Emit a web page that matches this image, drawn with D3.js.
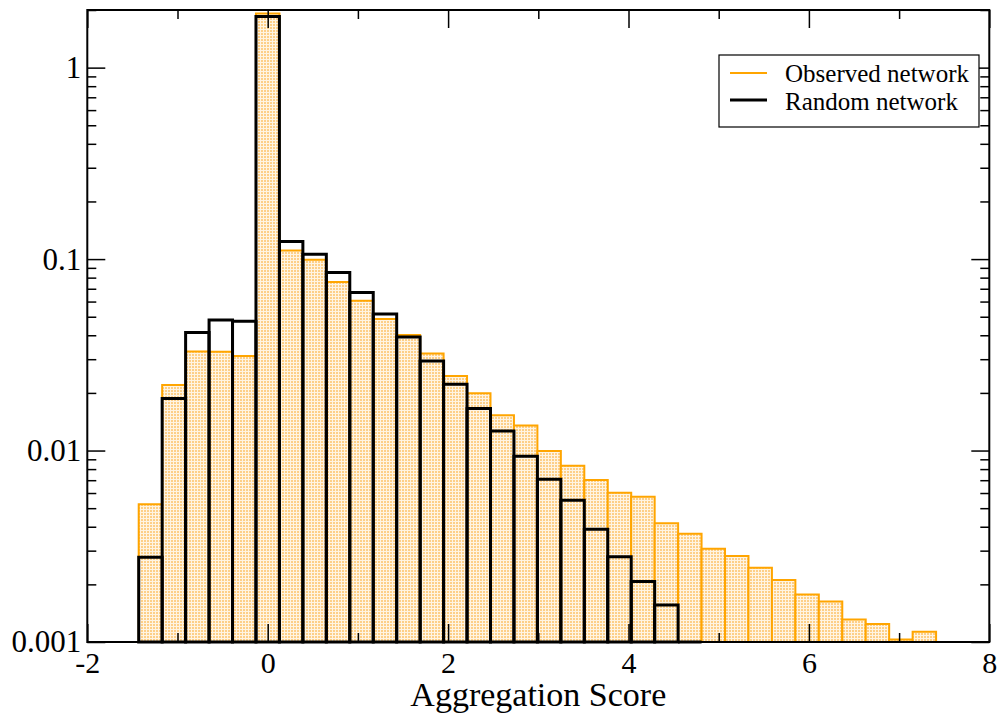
<!DOCTYPE html>
<html>
<head>
<meta charset="utf-8">
<script src="https://cdn.jsdelivr.net/npm/d3@7"></script>
<style>
  html, body { margin: 0; padding: 0; background: #fff; }
  svg { display: block; }
</style>
</head>
<body>
<div id="chart"></div>
<script>
// bin centres (bin width 0.26)
const BIN_WIDTH = 0.26;
const observedCenters = [
  -1.30, -1.04, -0.78, -0.52, -0.26, 0.00, 0.26, 0.52, 0.78, 1.04,
  1.30, 1.56, 1.82, 2.08, 2.34, 2.60, 2.86, 3.12, 3.38, 3.64,
  3.90, 4.16, 4.42, 4.68, 4.94, 5.20, 5.46, 5.72, 5.98, 6.24,
  6.50, 6.76, 7.02, 7.28,
];
const observedValues = [
  0.00524, 0.0220, 0.0329, 0.0328, 0.0312, 1.92, 0.111, 0.0991, 0.076, 0.0605,
  0.0486, 0.0401, 0.0321, 0.0245, 0.0199, 0.0153, 0.0135, 0.00995, 0.00834, 0.00702,
  0.00602, 0.00574, 0.00417, 0.00368, 0.00307, 0.00281, 0.00244, 0.00211, 0.00177, 0.00163,
  0.00131, 0.00124, 0.00103, 0.00113,
];
const randomCenters = [
  -1.30, -1.04, -0.78, -0.52, -0.26, 0.00, 0.26, 0.52, 0.78, 1.04,
  1.30, 1.56, 1.82, 2.08, 2.34, 2.60, 2.86, 3.12, 3.38, 3.64,
  3.90, 4.16, 4.42, 4.68,
];
const randomValues = [
  0.00277, 0.0187, 0.0413, 0.0480, 0.0474, 1.85, 0.1236, 0.106, 0.0851, 0.0669,
  0.0516, 0.0392, 0.0294, 0.0222, 0.0166, 0.01266, 0.00934, 0.00708, 0.00550, 0.00388,
  0.00279, 0.00207, 0.00156, 0,
];

const xMajorTicks = [-2, 0, 2, 4, 6, 8];
const xMinorTicks = [-1, 1, 3, 5, 7];
const yMajorTicks = [0.001, 0.01, 0.1, 1];
const yTickLabels = ["0.001", "0.01", "0.1", "1"];
const legendLabels = ["Observed network", "Random network"];
const X_TITLE = "Aggregation Score";

const WIDTH = 1003;
const HEIGHT = 719;
const PLOT_LEFT = 87.3;
const PLOT_RIGHT = 989.3;
const PLOT_TOP = 10;
const PLOT_BOTTOM = 642;
const Y_MIN = 0.001;
const Y_MAX = 2;

const MAJOR_TICK = 18;
const MINOR_TICK = 9;
const FONT = "'Liberation Serif', 'Times New Roman', Times, serif";
const ORANGE = "#ffa500";

const svg = d3
  .select("#chart")
  .append("svg")
  .attr("width", WIDTH)
  .attr("height", HEIGHT)
  .attr("viewBox", [0, 0, WIDTH, HEIGHT]);

// dotted fill used for the observed bars
const defs = svg.append("defs");
const dotPattern = defs
  .append("pattern")
  .attr("id", "orange-dots")
  .attr("patternUnits", "userSpaceOnUse")
  .attr("width", 3)
  .attr("height", 3);
dotPattern.append("rect").attr("width", 3).attr("height", 3).attr("fill", "#fff4e2");
dotPattern.append("rect").attr("width", 2).attr("height", 2).attr("fill", "#fdcf88");

const x = d3.scaleLinear().domain([-2, 8]).range([PLOT_LEFT, PLOT_RIGHT]);
const y = d3.scaleLog().domain([Y_MIN, Y_MAX]).range([PLOT_BOTTOM, PLOT_TOP]);

const observed = observedCenters.map((c, i) => ({ c, v: observedValues[i] }));
const random = randomCenters.map((c, i) => ({ c, v: randomValues[i] }));

const barY = (v) => y(Math.max(v, Y_MIN));

// outline of one bin; an empty bin collapses to a line on the baseline
function binPath(d) {
  const x0 = x(d.c - BIN_WIDTH / 2);
  const x1 = x(d.c + BIN_WIDTH / 2);
  const top = barY(d.v);
  return `M${x0},${PLOT_BOTTOM}V${top}H${x1}V${PLOT_BOTTOM}Z`;
}

svg
  .append("g")
  .attr("class", "observed-bars")
  .selectAll("path")
  .data(observed)
  .join("path")
  .attr("d", binPath)
  .attr("fill", "url(#orange-dots)")
  .attr("stroke", ORANGE)
  .attr("stroke-width", 2);

svg
  .append("g")
  .attr("class", "random-bars")
  .selectAll("path")
  .data(random)
  .join("path")
  .attr("d", binPath)
  .attr("fill", "none")
  .attr("stroke", "#000")
  .attr("stroke-width", 3);

// axes: ticks point inward on all four sides
const yMinorTicks = y.ticks().filter((t) => !yMajorTicks.includes(t) && t <= Y_MAX);

function styleAxis(g, withLabels, fontSize) {
  g.select(".domain").remove();
  g.selectAll(".tick line").attr("stroke", "#000").attr("stroke-width", 1.5);
  g.selectAll(".tick text")
    .attr("fill", "#000")
    .style("font-family", FONT)
    .style("font-size", fontSize + "px")
    .style("display", withLabels ? null : "none");
}

svg
  .append("g")
  .attr("transform", `translate(0,${PLOT_BOTTOM})`)
  .call(d3.axisBottom(x).tickValues(xMajorTicks).tickSize(-MAJOR_TICK).tickPadding(10).tickFormat((d) => String(d)))
  .call((g) => styleAxis(g, true, 30));
svg
  .append("g")
  .attr("transform", `translate(0,${PLOT_BOTTOM})`)
  .call(d3.axisBottom(x).tickValues(xMinorTicks).tickSize(-MINOR_TICK).tickFormat(""))
  .call((g) => styleAxis(g, false, 30));
svg
  .append("g")
  .attr("transform", `translate(0,${PLOT_TOP})`)
  .call(d3.axisTop(x).tickValues(xMajorTicks).tickSize(-MAJOR_TICK).tickFormat(""))
  .call((g) => styleAxis(g, false, 30));
svg
  .append("g")
  .attr("transform", `translate(0,${PLOT_TOP})`)
  .call(d3.axisTop(x).tickValues(xMinorTicks).tickSize(-MINOR_TICK).tickFormat(""))
  .call((g) => styleAxis(g, false, 30));

svg
  .append("g")
  .attr("transform", `translate(${PLOT_LEFT},0)`)
  .call(
    d3.axisLeft(y).tickValues(yMajorTicks).tickSize(-MAJOR_TICK).tickPadding(6)
      .tickFormat((d, i) => yTickLabels[i])
  )
  .call((g) => styleAxis(g, true, 31));
svg
  .append("g")
  .attr("transform", `translate(${PLOT_LEFT},0)`)
  .call(d3.axisLeft(y).tickValues(yMinorTicks).tickSize(-MINOR_TICK).tickFormat(""))
  .call((g) => styleAxis(g, false, 31));
svg
  .append("g")
  .attr("transform", `translate(${PLOT_RIGHT},0)`)
  .call(d3.axisRight(y).tickValues(yMajorTicks).tickSize(-MAJOR_TICK).tickFormat(""))
  .call((g) => styleAxis(g, false, 31));
svg
  .append("g")
  .attr("transform", `translate(${PLOT_RIGHT},0)`)
  .call(d3.axisRight(y).tickValues(yMinorTicks).tickSize(-MINOR_TICK).tickFormat(""))
  .call((g) => styleAxis(g, false, 31));

// frame
svg
  .append("rect")
  .attr("x", PLOT_LEFT)
  .attr("y", PLOT_TOP)
  .attr("width", PLOT_RIGHT - PLOT_LEFT)
  .attr("height", PLOT_BOTTOM - PLOT_TOP)
  .attr("fill", "none")
  .attr("stroke", "#000")
  .attr("stroke-width", 2);

svg
  .append("text")
  .attr("x", (PLOT_LEFT + PLOT_RIGHT) / 2)
  .attr("y", 706)
  .attr("text-anchor", "middle")
  .style("font-family", FONT)
  .style("font-size", "34px")
  .text(X_TITLE);

// legend
const legend = svg.append("g").attr("class", "legend");
legend
  .append("rect")
  .attr("x", 719)
  .attr("y", 55)
  .attr("width", 260)
  .attr("height", 72)
  .attr("fill", "#fff")
  .attr("stroke", "#000")
  .attr("stroke-width", 1.2);

const legendItems = [
  { label: legendLabels[0], color: ORANGE, width: 2, lineY: 73, textY: 82 },
  { label: legendLabels[1], color: "#000", width: 3, lineY: 100, textY: 110 },
];
legendItems.forEach((item) => {
  legend
    .append("line")
    .attr("x1", 730)
    .attr("x2", 767)
    .attr("y1", item.lineY)
    .attr("y2", item.lineY)
    .attr("stroke", item.color)
    .attr("stroke-width", item.width);
  legend
    .append("text")
    .attr("x", 785)
    .attr("y", item.textY)
    .style("font-family", FONT)
    .style("font-size", "25px")
    .text(item.label);
});
</script>
</body>
</html>
